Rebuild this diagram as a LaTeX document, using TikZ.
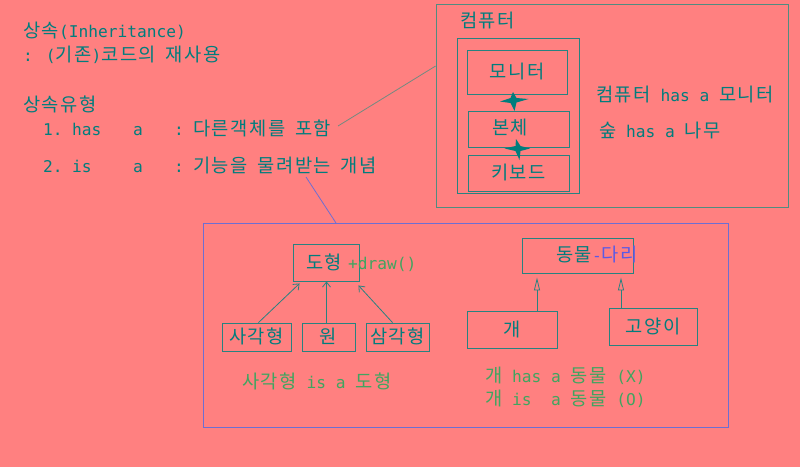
\documentclass[tikz,border=0pt]{standalone}
\usepackage{fontspec}
\setmainfont{DejaVu Sans Mono}
\newfontfamily\krfont{Noto Sans CJK KR}[Scale=1.155, LetterSpace=8]
\newcommand\kr[1]{{\krfont #1}}
\usetikzlibrary{arrows.meta,calc}
\definecolor{bgc}{RGB}{255,128,128}
\definecolor{tealT}{RGB}{0,125,125}
\definecolor{boxL}{RGB}{40,130,128}
\definecolor{outerL}{RGB}{80,140,128}
\definecolor{blueL}{RGB}{110,110,210}
\definecolor{greenT}{RGB}{64,165,96}
\definecolor{blueT}{RGB}{90,90,230}
\tikzset{
  txt/.style={inner sep=0pt, text height=13pt, text depth=0pt, text=tealT, font=\fontsize{16.2}{19}\selectfont, anchor=west},
  gtxt/.style={txt, text=greenT},
  box/.style={draw=boxL, line width=0.9pt, inner sep=0pt, text=tealT, font=\fontsize{16.2}{19}\selectfont, text height=13pt, text depth=0pt},
  thin/.style={line width=0.8pt},
  inh/.style={draw=boxL, line width=0.8pt, -{Straight Barb[length=5pt,width=8pt]}},
  gen/.style={draw=boxL, line width=0.8pt, -{Triangle[open,length=13pt,width=6pt]}, shorten >=4pt},
}
\begin{document}
\begin{tikzpicture}[x=1pt,y=-1pt]
\fill[bgc] (0,0) rectangle (800,467);
\useasboundingbox (0,0) rectangle (800,467);

% left text
\node[txt] (t1) at (23,31) {\kr{상속}(Inheritance)};
\node[txt] (t2) at (23,55) {: (\kr{기존})\kr{코드의} \kr{재사용}};
\node[txt] (t3) at (23,105) {\kr{상속유형}};
\node[txt] (h1) at (43,129) {1.};
\node[txt] (h2) at (72,129) {has};
\node[txt] (h3) at (133,129) {a};
\node[txt] (h4) at (174,129) {:};
\node[txt] (h5) at (193,129) {\kr{다른객체를} \kr{포함}};
\node[txt] (i1) at (43,166) {2.};
\node[txt] (i2) at (72,166) {is};
\node[txt] (i3) at (133,166) {a};
\node[txt] (i4) at (174,166) {:};
\node[txt] (i5) at (193,166) {\kr{기능을} \kr{물려받는} \kr{개념}};

% top-right group
\node[draw=outerL, thin, minimum width=352, minimum height=203, inner sep=0pt] (comp) at (612,105.5) {};
\node[txt] (comptxt) at (460,21) {\kr{컴퓨터}};
\node[draw=boxL, line width=0.9pt, minimum width=122, minimum height=155, inner sep=0pt] (inner) at (518,115.5) {};
\node[box, minimum width=100, minimum height=44] (mon) at (517,72) {\kr{모니터}};
\node[box, minimum width=101, minimum height=36] (body) at (518.5,129) {};
\node[txt] (bodytxt) at (492,128) {\kr{본체}};
\node[box, minimum width=101, minimum height=36] (kbd) at (518.5,173) {\kr{키보드}};
\node[txt] (r1) at (596,95) {\kr{컴퓨터} has a \kr{모니터}};
\node[txt] (r2) at (599,131) {\kr{숲} has a \kr{나무}};

% crosses
\fill[tealT] (513,101) ++(0,-9) -- ++(3.5,6) -- ++(12,1) -- ++(-12,3.5) -- ++(-2,8.5) -- ++(-4,-8) -- ++(-10.5,-1.5) -- ++(10.5,-3.5) -- cycle;
\fill[tealT] (517,149) ++(-1,-10) -- ++(4.5,7) -- ++(9.5,2.5) -- ++(-9.5,2.5) -- ++(-1,9) -- ++(-4,-9) -- ++(-11,-2.5) -- ++(11,-2.5) -- cycle;

% connector lines from text to groups
\coordinate (c1) at (338,126);
\draw[draw=outerL!80!bgc, thin] (c1) -- (comp.west |- 0,66);
\coordinate (c2) at (306,177);
\coordinate (c3) at (336,223);
\draw[draw=blueL, thin] (c2) -- (c3);

% bottom group
\node[draw=blueL, line width=0.9pt, minimum width=525, minimum height=204, inner sep=0pt] (bottom) at (465.5,325) {};

\node[box, minimum width=66, minimum height=37] (shape) at (326,262.5) {};
\node[txt] (shapetxt) at (306,263) {\kr{도형}};
\node[gtxt] (draw) at (348,263) {+draw()};
\node[box, minimum width=69, minimum height=28] (sq) at (256.5,337) {\kr{사각형}};
\node[box, minimum width=53, minimum height=28] (circ) at (328.5,337) {\kr{원}};
\node[box, minimum width=63, minimum height=28] (tri) at (397.5,337) {\kr{삼각형}};
\draw[inh] ($(sq.north)+(2,0)$) -- ($(shape.south west)+(7,2)$);
\draw[inh] ($(circ.north)+(-2,0)$) -- ($(circ.north |- shape.south)+(-2,0)$);
\draw[inh] ($(tri.north)+(-5,0)$) -- ($(shape.south east)+(-1,4)$);
\node[gtxt] (isa) at (242,382) {\kr{사각형} is a \kr{도형}};

\node[box, minimum width=111, minimum height=35] (animal) at (577.5,255.5) {};
\node[txt] (animaltxt) at (556,255) {\kr{동물}\textcolor{blueT}{-\kr{다리}}};
\node[box, minimum width=90, minimum height=37] (dog) at (512,329.5) {\kr{개}};
\node[box, minimum width=88, minimum height=37] (cat) at (653,326.5) {\kr{고양이}};
\draw[gen] (dog.north -| 537,0) -- (animal.south -| 537,0);
\draw[gen] (cat.north -| 621,0) -- (animal.south -| 621,0);
\node[gtxt] (g1) at (485,376) {\kr{개} has a \kr{동물} (X)};
\node[gtxt] (g2) at (485,399) {\kr{개} is~ a \kr{동물} (O)};
\end{tikzpicture}
\end{document}
